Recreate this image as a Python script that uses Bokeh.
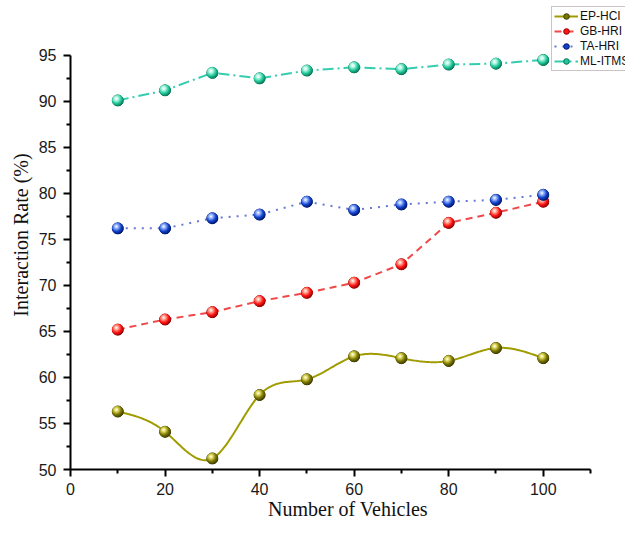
import base64
import numpy as np
from bokeh.plotting import figure
from bokeh.models import Legend, LegendItem, FixedTicker
from bokeh.embed import file_html
from bokeh.resources import INLINE

# ---- data ----
vehicles = [10, 20, 30, 40, 50, 60, 70, 80, 90, 100]
ep_hci = [56.3, 54.1, 51.2, 58.1, 59.8, 62.3, 62.1, 61.8, 63.2, 62.1]
gb_hri = [65.2, 66.3, 67.1, 68.3, 69.2, 70.3, 72.3, 76.8, 77.9, 79.1]
ta_hri = [76.2, 76.2, 77.3, 77.7, 79.1, 78.2, 78.8, 79.1, 79.3, 79.85]
ml_itms = [90.1, 91.2, 93.1, 92.5, 93.35, 93.7, 93.5, 94.0, 94.1, 94.5]
series_names = ["EP-HCI", "GB-HRI", "TA-HRI", "ML-ITMS"]
x_ticks = [0, 20, 40, 60, 80, 100]
x_minor_ticks = [10, 30, 50, 70, 90, 110]
y_ticks = [50, 55, 60, 65, 70, 75, 80, 85, 90, 95]
y_minor_ticks = [52.5, 57.5, 62.5, 67.5, 72.5, 77.5, 82.5, 87.5, 92.5]
x_axis_bounds = (0, 110)
y_axis_bounds = (50, 95)


def natural_spline(xs, ys, n=300):
    """Smooth curve through the data points (drawing only)."""
    x = np.asarray(xs, float)
    y = np.asarray(ys, float)
    h = np.diff(x)
    N = len(x)
    A = np.zeros((N, N))
    b = np.zeros(N)
    A[0, 0] = 1.0
    A[-1, -1] = 1.0
    for i in range(1, N - 1):
        A[i, i - 1] = h[i - 1]
        A[i, i] = 2 * (h[i - 1] + h[i])
        A[i, i + 1] = h[i]
        b[i] = 3 * ((y[i + 1] - y[i]) / h[i] - (y[i] - y[i - 1]) / h[i - 1])
    c = np.linalg.solve(A, b)
    xx = np.linspace(x[0], x[-1], n)
    idx = np.clip(np.searchsorted(x, xx) - 1, 0, N - 2)
    dx = xx - x[idx]
    bc = (y[1:] - y[:-1]) / h - h * (2 * c[:-1] + c[1:]) / 3
    d = (c[1:] - c[:-1]) / (3 * h)
    yy = y[idx] + bc[idx] * dx + c[idx] * dx ** 2 + d[idx] * dx ** 3
    return xx, yy


def sphere_url(light, mid, dark):
    svg = ("<svg xmlns='http://www.w3.org/2000/svg' width='24' height='24' "
           "viewBox='0 0 24 24'><defs><radialGradient id='g' cx='0.38' cy='0.34' r='0.68'>"
           "<stop offset='0' stop-color='#ffffff'/>"
           f"<stop offset='0.22' stop-color='{light}'/>"
           f"<stop offset='0.62' stop-color='{mid}'/>"
           f"<stop offset='1' stop-color='{dark}'/>"
           "</radialGradient></defs>"
           "<circle cx='12' cy='12' r='11.6' fill='url(#g)'/></svg>")
    return "data:image/svg+xml;base64," + base64.b64encode(svg.encode()).decode()


p = figure(width=625, height=522, x_range=(0, 117.4), y_range=(50, 100.96),
           output_backend="svg", toolbar_location=None,
           min_border_left=70, min_border_right=0,
           min_border_top=0, min_border_bottom=52,
           x_axis_label="Number of Vehicles",
           y_axis_label="Interaction Rate (%)")
p.xgrid.visible = False
p.ygrid.visible = False
p.outline_line_color = None
p.background_fill_color = "white"
p.border_fill_color = "white"

for ax in (p.xaxis[0], p.yaxis[0]):
    ax.axis_line_width = 2
    ax.axis_line_color = "black"
    ax.major_tick_line_width = 2
    ax.minor_tick_line_width = 2
    ax.major_tick_line_color = "black"
    ax.minor_tick_line_color = "black"
    ax.major_tick_in = 0
    ax.major_tick_out = 7
    ax.minor_tick_in = 0
    ax.minor_tick_out = 4
    ax.major_label_text_font = "Liberation Sans"
    ax.major_label_text_font_size = "16px"
    ax.major_label_text_color = "#1a1a1a"
    ax.axis_label_text_font = "Liberation Serif"
    ax.axis_label_text_font_size = "20px"
    ax.axis_label_text_font_style = "normal"
    ax.axis_label_text_color = "#111111"

p.xaxis[0].bounds = x_axis_bounds
p.yaxis[0].bounds = y_axis_bounds
p.xaxis[0].ticker = FixedTicker(ticks=x_ticks, minor_ticks=x_minor_ticks)
p.yaxis[0].ticker = FixedTicker(ticks=y_ticks, minor_ticks=y_minor_ticks)
p.xaxis[0].major_label_standoff = 6
p.yaxis[0].major_label_standoff = 7
p.xaxis[0].axis_label_standoff = 0
p.yaxis[0].axis_label_standoff = 4

styles = [
    # line color, dash, marker fill, marker edge, sphere light
    ("#a09c00", "solid", "#7a7700", "#3c3a00", "#e6df6a"),
    ("#f04848", "7 5", "#ff1414", "#8c0000", "#ffb09c"),
    ("#6579cf", "2 6", "#1242cc", "#001468", "#9fbcff"),
    ("#35cdb0", "11 4 2 4", "#1fc89a", "#087052", "#bff8e8"),
]
all_values = [ep_hci, gb_hri, ta_hri, ml_itms]

items = []
for k, (name, vals, st) in enumerate(zip(series_names, all_values, styles)):
    lc, dash, fc, ec, light = st
    if k == 0:
        sx, sy = natural_spline(vehicles, vals)
        ln = p.line(sx, sy, line_color=lc, line_width=2)
    else:
        ln = p.line(vehicles, vals, line_color=lc, line_width=2, line_dash=dash)
    sc = p.scatter(vehicles, vals, marker="circle", size=11,
                   fill_color=fc, line_color=ec, line_width=1.0)
    url = sphere_url(light, fc, ec)
    p.image_url(url=[url] * len(vehicles), x=vehicles, y=vals, w=12, h=12,
                w_units="screen", h_units="screen", anchor="center")
    items.append(LegendItem(label=name, renderers=[ln, sc]))

legend = Legend(items=items, location=(481, 398),
                orientation="vertical",
                label_text_font="Liberation Sans",
                label_text_font_size="12px",
                label_text_color="#111111",
                glyph_width=24, glyph_height=14, label_height=14,
                label_standoff=2, spacing=1, padding=2, margin=0,
                border_line_color="#9a8a8a", border_line_width=1,
                background_fill_color="white", background_fill_alpha=1.0)
p.add_layout(legend, "center")

open("out.html", "w").write(file_html(p, INLINE))
